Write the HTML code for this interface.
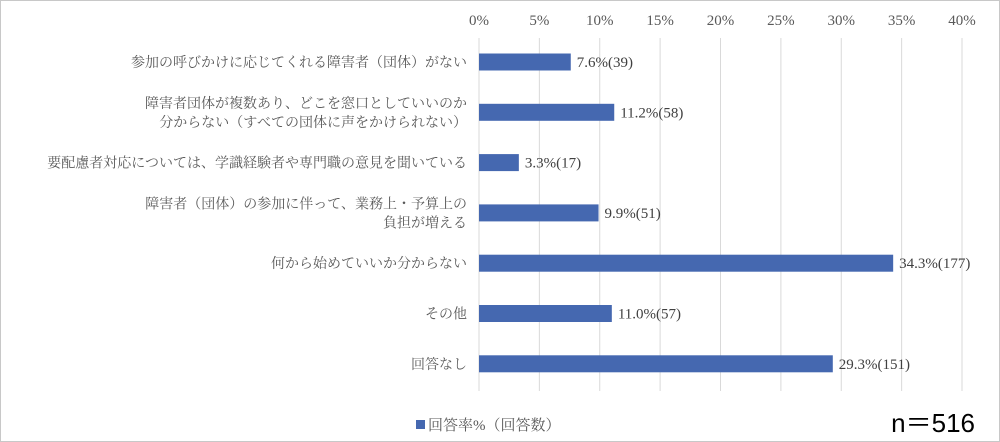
<!DOCTYPE html>
<html><head><meta charset="utf-8"><style>
body{margin:0;background:#fff;}
#wrap{position:relative;width:998px;height:440px;border:1px solid #c8c8c8;overflow:hidden;font-family:"Liberation Serif","Noto Serif CJK JP",serif;color:#595959;}
svg text{font-family:"Liberation Serif","Noto Serif CJK JP",serif;}
</style></head><body>
<div id="wrap">
<svg id="chart" width="998" height="440"></svg>
</div>
<script>
const categories=[["参加の呼びかけに応じてくれる障害者（団体）がない"],["障害者団体が複数あり、どこを窓口としていいのか","分からない（すべての団体に声をかけられない）"],["要配慮者対応については、学識経験者や専門職の意見を聞いている"],["障害者（団体）の参加に伴って、業務上・予算上の","負担が増える"],["何から始めていいか分からない"],["その他"],["回答なし"]];
const values=[7.6,11.2,3.3,9.9,34.3,11.0,29.3];
const counts=[39,58,17,51,177,57,151];
const ticks=[0,5,10,15,20,25,30,35,40];
const NS="http://www.w3.org/2000/svg";
const svg=document.getElementById('chart');
const x0=478,x1=961,xMax=40;
const xs=v=>x0+v/xMax*(x1-x0);
const yc=i=>61+i*50.3;
function el(t,a){const e=document.createElementNS(NS,t);for(const k in a)e.setAttribute(k,a[k]);svg.appendChild(e);return e;}
ticks.forEach(t=>{
 const g=el('line',{x1:xs(t),x2:xs(t),y1:37,y2:390,stroke:'#d9d9d9','stroke-width':1});
 
 
 const l=el('text',{x:xs(t),y:24,'text-anchor':'middle','font-size':15,fill:'#595959'});
 l.textContent=t+'%';
 
 
});
values.forEach((v,i)=>{
 const b=el('rect',{x:xs(0),y:yc(i)-8.5,width:xs(v)-xs(0),height:17,fill:'#4568b0'});
 
 
 const t=el('text',{x:xs(v)+6,y:yc(i)+5,'font-size':15,fill:'#404040'});
 t.textContent=v.toFixed(1)+'%('+counts[i]+')';
 
 
 const lines=categories[i];
 lines.forEach((s,j)=>{
  const c=el('text',{x:466,y:yc(i)+5+(j-(lines.length-1)/2)*19,'text-anchor':'end','font-size':14,fill:'#595959'});
  c.textContent=s;
  
  
 });
});
const lm=el('rect',{x:415,y:419,width:9,height:9,fill:'#4568b0'});


const lt=el('text',{x:427,y:429,'font-size':15,fill:'#595959'});
lt.textContent='回答率%（回答数）';


const n=el('text',{x:974,y:431,'text-anchor':'end','font-size':26,fill:'#000'});
n.setAttribute('style','font-family:"Liberation Sans","Noto Sans CJK JP",sans-serif');
n.textContent='n＝516';


</script>
</body></html>
